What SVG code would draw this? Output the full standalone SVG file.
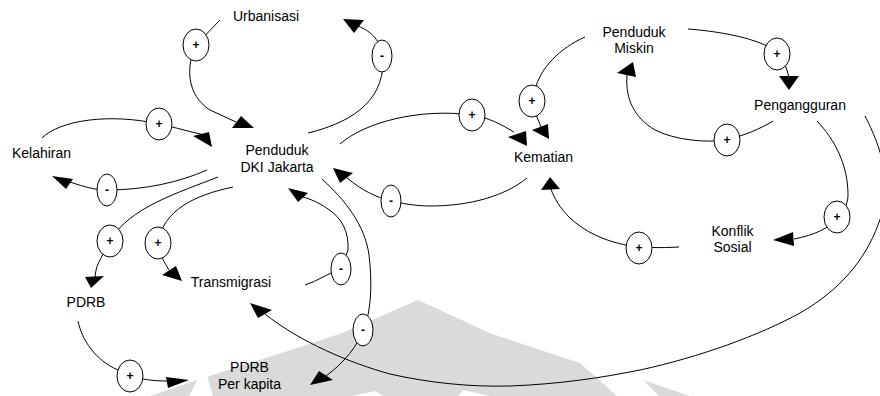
<svg xmlns="http://www.w3.org/2000/svg" width="880" height="396" viewBox="0 0 880 396">
  <style>
    .lbl { font-family: "Liberation Sans", Arial, sans-serif; font-size: 14px; fill: #000; text-anchor: middle; }
    .link { fill: none; stroke: #000; stroke-width: 1; }
    .ah { fill: #000; stroke: none; }
    .pol { fill: #fff; stroke: #000; stroke-width: 1; }
    .sign { font-family: "Liberation Sans", Arial, sans-serif; font-size: 12px; font-weight: bold; fill: #000; text-anchor: middle; }
    .wm { fill: #dadada; }
    .cut { fill: #fff; }
  </style>

  <!-- faint emblem in the background -->
  <g id="watermark">
    <polygon class="wm" points="150,396 197,380 300,347 342,333 418,300 492,334 580,363 617,396"/>
    <polygon class="cut" points="189,396 198,379 207,376 213,396"/>
    <polygon class="cut" points="352,396 376,391 383,396"/>
    <polygon class="cut" points="458,396 463,390 490,396"/>
    <polygon class="wm" points="643,380 690,396 659,396"/>
  </g>

  <g id="connectors">
    <!-- Urbanisasi -> Penduduk DKI Jakarta (+) -->
    <g id="urb-pend">
      <path class="link" d="M220,20 L196,45 C186,65 186,95 210,110 L236,122"/>
      <polygon class="ah" points="232,128 241,116 254,128"/>
      <ellipse class="pol" cx="196" cy="45" rx="13" ry="16"/>
      <text class="sign" x="196" y="49">+</text>
    </g>
    <!-- Penduduk DKI Jakarta -> Urbanisasi (-) -->
    <g id="pend-urb">
      <path class="link" d="M308,133 C345,124 384,105 383,60 C381,40 372,32 358,26"/>
      <polygon class="ah" points="343,19 364,20 354,33"/>
      <ellipse class="pol" cx="382" cy="56" rx="10" ry="16"/>
      <text class="sign" x="382" y="60">-</text>
    </g>
    <!-- Kelahiran -> Penduduk DKI Jakarta (+) -->
    <g id="kel-pend">
      <path class="link" d="M42,138 C60,120 110,113 159,124 C178,128 190,132 201,134"/>
      <polygon class="ah" points="193,136 209,132 212,147"/>
      <ellipse class="pol" cx="159" cy="124" rx="13" ry="16"/>
      <text class="sign" x="159" y="128">+</text>
    </g>
    <!-- Penduduk DKI Jakarta -> Kelahiran (-) -->
    <g id="pend-kel">
      <path class="link" d="M207,170 C180,182 145,190 107,190 C95,190 85,187 70,182"/>
      <polygon class="ah" points="52,176 73,179 66,189"/>
      <ellipse class="pol" cx="107" cy="190" rx="10" ry="16"/>
      <text class="sign" x="107" y="194">-</text>
    </g>
    <!-- Penduduk DKI Jakarta -> PDRB (+) -->
    <g id="pend-pdrb">
      <path class="link" d="M218,177 C180,192 128,208 110,241 C104,255 96,262 95,277"/>
      <polygon class="ah" points="85,277 104,276 91,288"/>
      <ellipse class="pol" cx="110" cy="241" rx="13" ry="16"/>
      <text class="sign" x="110" y="245">+</text>
    </g>
    <!-- Penduduk DKI Jakarta -> Transmigrasi (+) -->
    <g id="pend-trans">
      <path class="link" d="M233,187 C195,195 163,210 158,243 C160,255 164,262 169,270"/>
      <polygon class="ah" points="162,275 176,266 182,281"/>
      <ellipse class="pol" cx="158" cy="243" rx="13" ry="16"/>
      <text class="sign" x="158" y="247">+</text>
    </g>
    <!-- Transmigrasi -> Penduduk DKI Jakarta (-) -->
    <g id="trans-pend">
      <path class="link" d="M305,285 C318,281 328,273 341,269 L348,250 C349,232 342,218 328,209 C318,202 310,199 303,197"/>
      <polygon class="ah" points="288,188 308,193 298,202"/>
      <ellipse class="pol" cx="341" cy="269" rx="10" ry="16"/>
      <text class="sign" x="341" y="273">-</text>
    </g>
    <!-- Penduduk DKI Jakarta -> PDRB Per kapita (-) -->
    <g id="pend-pdrbkap">
      <path class="link" d="M322,179 C345,200 365,225 369,255 C372,280 371,300 368,315 L363,330 C358,345 345,362 326,376"/>
      <polygon class="ah" points="310,385 319,371 333,380"/>
      <ellipse class="pol" cx="363" cy="330" rx="10" ry="16"/>
      <text class="sign" x="363" y="334">-</text>
    </g>
    <!-- Penduduk DKI Jakarta -> Kematian (+) -->
    <g id="pend-kem">
      <path class="link" d="M340,144 C365,122 420,108 472,115 C490,118 500,124 514,132"/>
      <polygon class="ah" points="508,137 526,131 527,146"/>
      <ellipse class="pol" cx="472" cy="115" rx="13" ry="16"/>
      <text class="sign" x="472" y="119">+</text>
    </g>
    <!-- Kematian -> Penduduk DKI Jakarta (-) -->
    <g id="kem-pend">
      <path class="link" d="M527,178 C505,196 470,206 430,206 C415,206 400,203 391,201 C375,197 362,190 347,178"/>
      <polygon class="ah" points="333,168 353,173 340,183"/>
      <ellipse class="pol" cx="391" cy="201" rx="10" ry="16"/>
      <text class="sign" x="391" y="205">-</text>
    </g>
    <!-- Penduduk Miskin -> Kematian (+) -->
    <g id="miskin-kem">
      <path class="link" d="M585,37 C560,48 540,68 535,90 L532,101 L537,117 L541,127"/>
      <polygon class="ah" points="532,130 548,124 549,139"/>
      <ellipse class="pol" cx="532" cy="101" rx="13" ry="16"/>
      <text class="sign" x="532" y="105">+</text>
    </g>
    <!-- Penduduk Miskin -> Pengangguran (+) -->
    <g id="miskin-peng">
      <path class="link" d="M688,29 C715,31 745,36 765,45 L777,54 L786,67 L789,77"/>
      <polygon class="ah" points="779,76 799,76 789,90"/>
      <ellipse class="pol" cx="777" cy="54" rx="13" ry="16"/>
      <text class="sign" x="777" y="58">+</text>
    </g>
    <!-- Pengangguran -> Penduduk Miskin (+) -->
    <g id="peng-miskin">
      <path class="link" d="M773,121 C760,129 745,135 727,140 C705,143 675,140 655,130 C635,118 625,100 627,75"/>
      <polygon class="ah" points="617,73 633,62 636,77"/>
      <ellipse class="pol" cx="727" cy="140" rx="13" ry="16"/>
      <text class="sign" x="727" y="144">+</text>
    </g>
    <!-- Pengangguran -> Konflik Sosial (+) -->
    <g id="peng-konflik">
      <path class="link" d="M817,121 C835,140 848,165 848,195 C848,205 843,212 837,217 C830,228 815,235 794,239"/>
      <polygon class="ah" points="773,240 793,232 794,246"/>
      <ellipse class="pol" cx="837" cy="217" rx="13" ry="16"/>
      <text class="sign" x="837" y="221">+</text>
    </g>
    <!-- Konflik Sosial -> Kematian (+) -->
    <g id="konflik-kem">
      <path class="link" d="M679,247 C660,248 645,248 626,245 C605,241 585,232 570,218 C560,208 554,198 551,189"/>
      <polygon class="ah" points="541,190 550,177 560,189"/>
      <ellipse class="pol" cx="639" cy="248" rx="13" ry="16"/>
      <text class="sign" x="639" y="252">+</text>
    </g>
    <!-- Pengangguran -> Transmigrasi -->
    <g id="peng-trans">
      <path class="link" d="M865,116 C880,145 895,185 878,225 C865,260 840,290 800,313 C760,335 700,357 640,370 C600,378 560,384 510,386 C470,387 430,383 390,374 C350,363 300,342 265,314"/>
      <polygon class="ah" points="250,303 272,310 258,318"/>
    </g>
    <!-- PDRB -> PDRB Per kapita (+) -->
    <g id="pdrb-pdrbkap">
      <path class="link" d="M78,321 C82,340 95,360 118,370 L130,376 C145,380 155,381 167,381"/>
      <polygon class="ah" points="166,377 189,380 168,388"/>
      <ellipse class="pol" cx="130" cy="376" rx="13" ry="16"/>
      <text class="sign" x="130" y="380">+</text>
    </g>
  </g>

  <g id="urbanisasi"><text class="lbl" x="266" y="21">Urbanisasi</text></g>
  <g id="kelahiran"><text class="lbl" x="41.5" y="158">Kelahiran</text></g>
  <g id="penduduk-dki">
    <text class="lbl" x="277" y="155">Penduduk</text>
    <text class="lbl" x="277" y="172">DKI Jakarta</text>
  </g>
  <g id="kematian"><text class="lbl" x="543.5" y="162">Kematian</text></g>
  <g id="penduduk-miskin">
    <text class="lbl" x="634" y="37">Penduduk</text>
    <text class="lbl" x="634" y="53">Miskin</text>
  </g>
  <g id="pengangguran"><text class="lbl" x="800" y="110">Pengangguran</text></g>
  <g id="konflik-sosial">
    <text class="lbl" x="732.5" y="236">Konflik</text>
    <text class="lbl" x="732.5" y="252">Sosial</text>
  </g>
  <g id="transmigrasi"><text class="lbl" x="231" y="287">Transmigrasi</text></g>
  <g id="pdrb"><text class="lbl" x="86" y="307">PDRB</text></g>
  <g id="pdrb-kapita">
    <text class="lbl" x="249.5" y="372">PDRB</text>
    <text class="lbl" x="249.5" y="389">Per kapita</text>
  </g>
</svg>
